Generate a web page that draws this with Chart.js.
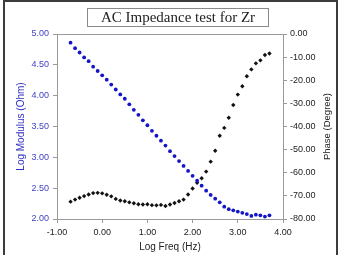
<!DOCTYPE html>
<html lang="en">
<head>
    <meta charset="UTF-8">
    <title>AC Impedance test for Zr</title>
    <script src="https://cdn.jsdelivr.net/npm/chart.js"></script>
    <style>
        body {
            margin: 0;
            background: #fff;
        }
        #wrap {
            position: relative;
            width: 340px;
            height: 255px;
        }
        #frame {
            position: absolute;
            left: 3px;
            top: 0;
            width: 331px;
            height: 256px;
            border: 2px solid #3c3c3c;
            border-bottom: none;
            pointer-events: none;
        }
        #chartTitle {
            position: absolute;
            left: 87px;
            top: 8px;
            width: 180px;
            height: 17px;
            line-height: 17px;
            border: 1px solid #8a8a8a;
            text-align: center;
            font-family: "Liberation Serif", "DejaVu Serif", serif;
            font-size: 15px;
            color: #222;
        }
    </style>
</head>
<body>
    <div id="wrap">
        <canvas id="impChart"></canvas>
        <div id="chartTitle">AC Impedance test for Zr</div>
        <div id="frame"></div>
    </div>

    <script>
        // log10 of frequency (Hz)
        const logFreq = [-0.70, -0.60, -0.50, -0.40, -0.30, -0.20, -0.10, 0.00, 0.10, 0.20,
                         0.30, 0.40, 0.50, 0.60, 0.70, 0.80, 0.90, 1.00, 1.10, 1.20,
                         1.30, 1.40, 1.50, 1.60, 1.70, 1.80, 1.90, 2.00, 2.10, 2.20,
                         2.30, 2.40, 2.50, 2.60, 2.70, 2.80, 2.90, 3.00, 3.10, 3.20,
                         3.30, 3.40, 3.50, 3.60, 3.70];

        // log |Z| (Ohm)
        const logModulus = [4.86, 4.77, 4.70, 4.62, 4.56, 4.47, 4.40, 4.33, 4.26, 4.18,
                            4.10, 4.02, 3.95, 3.86, 3.77, 3.69, 3.60, 3.52, 3.43, 3.35,
                            3.27, 3.19, 3.10, 3.02, 2.94, 2.86, 2.78, 2.70, 2.62, 2.54,
                            2.46, 2.39, 2.33, 2.27, 2.20, 2.16, 2.14, 2.12, 2.10, 2.08,
                            2.05, 2.07, 2.06, 2.04, 2.06];

        // phase angle (degree)
        const phase = [-72.5, -71.6, -70.8, -70.1, -69.4, -68.8, -68.7, -68.9, -69.5, -70.2,
                       -71.3, -72.0, -72.3, -72.8, -73.2, -73.6, -73.7, -73.6, -74.0, -74.1,
                       -73.9, -74.4, -73.7, -73.1, -72.3, -71.6, -69.4, -66.8, -64.3, -62.4,
                       -59.5, -55.2, -50.5, -44.0, -40.6, -36.2, -30.7, -26.2, -22.6, -18.3,
                       -15.3, -12.7, -11.4, -9.1, -8.4];

        const modulusPoints = logFreq.map((f, i) => ({ x: f, y: logModulus[i] }));
        const phasePoints = logFreq.map((f, i) => ({ x: f, y: phase[i] }));

        const tickFont = { family: "'Liberation Sans', Arial, sans-serif", size: 9 };
        const axisGray = "#9a9a9a";

        // box round the plot area + right axis title (reads bottom to top)
        const extras = {
            id: "extras",
            afterDraw(chart) {
                const { ctx, chartArea } = chart;
                ctx.save();
                ctx.strokeStyle = axisGray;
                ctx.lineWidth = 1;
                ctx.strokeRect(chartArea.left + 0.5, chartArea.top + 0.5,
                               chartArea.right - chartArea.left, chartArea.bottom - chartArea.top);
                ctx.translate(327, (chartArea.top + chartArea.bottom) / 2);
                ctx.rotate(-Math.PI / 2);
                ctx.fillStyle = "#222";
                ctx.font = "9.5px 'Liberation Sans', Arial, sans-serif";
                ctx.textAlign = "center";
                ctx.textBaseline = "middle";
                ctx.fillText("Phase (Degree)", 0, 0);
                ctx.restore();
            }
        };

        new Chart(document.getElementById("impChart"), {
            type: "scatter",
            data: {
                datasets: [
                    {
                        label: "Log Modulus",
                        data: modulusPoints,
                        yAxisID: "y",
                        backgroundColor: "#1414c8",
                        borderColor: "#1414c8",
                        pointRadius: 1.9,
                        pointBorderWidth: 0
                    },
                    {
                        label: "Phase",
                        data: phasePoints,
                        yAxisID: "y1",
                        pointStyle: "rectRot",
                        backgroundColor: "#111",
                        borderColor: "#111",
                        pointRadius: 2.2,
                        pointBorderWidth: 0
                    }
                ]
            },
            options: {
                responsive: true,
                maintainAspectRatio: false,
                animation: false,
                layout: { padding: { top: 34, left: 0, right: 0, bottom: 0 } },
                plugins: {
                    legend: { display: false },
                    tooltip: { enabled: false }
                },
                scales: {
                    x: {
                        type: "linear",
                        min: -1,
                        max: 4,
                        afterFit: s => { s.height = 36; },
                        ticks: {
                            stepSize: 1,
                            color: "#222",
                            font: tickFont,
                            padding: 4,
                            maxRotation: 0,
                            callback: v => v.toFixed(2)
                        },
                        grid: { drawOnChartArea: false, tickLength: 4, color: axisGray },
                        border: { color: axisGray },
                        title: {
                            display: true,
                            text: "Log Freq (Hz)",
                            color: "#222",
                            font: { family: "'Liberation Sans', Arial, sans-serif", size: 10 },
                            padding: { top: 0, bottom: 2 }
                        }
                    },
                    y: {
                        position: "left",
                        min: 2,
                        max: 5,
                        afterFit: s => { s.width = 57; },
                        ticks: {
                            stepSize: 0.5,
                            color: "#4242c8",
                            font: tickFont,
                            padding: 4,
                            callback: v => v.toFixed(2)
                        },
                        grid: { drawOnChartArea: false, tickLength: 4, color: axisGray },
                        border: { color: axisGray },
                        title: {
                            display: true,
                            text: "Log Modulus (Ohm)",
                            color: "#3030c0",
                            font: { family: "'Liberation Sans', Arial, sans-serif", size: 10 },
                            padding: { top: 15, bottom: 0 }
                        }
                    },
                    y1: {
                        position: "right",
                        min: -80,
                        max: 0,
                        afterFit: s => { s.width = 57; },
                        ticks: {
                            stepSize: 10,
                            color: "#222",
                            font: tickFont,
                            padding: 3,
                            callback: v => v.toFixed(2)
                        },
                        grid: { drawOnChartArea: false, tickLength: 4, color: axisGray },
                        border: { color: axisGray }
                    }
                }
            },
            plugins: [extras]
        });
    </script>
</body>
</html>
